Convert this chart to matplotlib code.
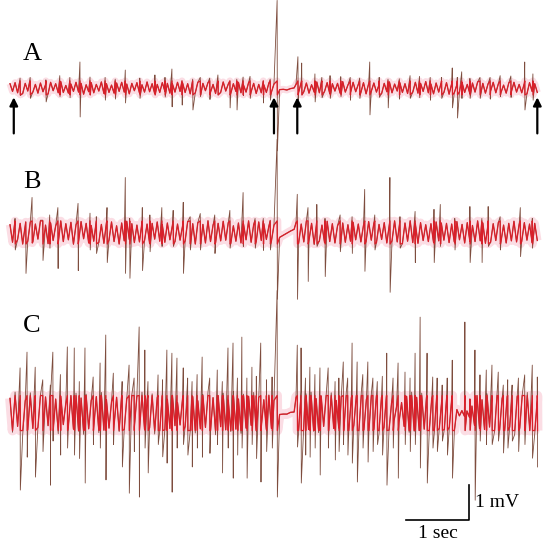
import numpy as np
import matplotlib.pyplot as plt

# ----------------------------------
# Data (time in sec from start of trace, amplitude in mV)
# ----------------------------------

labels = ['A', 'B', 'C']
baselines = [13.26, 9.13, 3.97]  # mV above the bottom edge

left_span = (0.0, 4.19)
right_span = (4.54, 8.37)
gap_span = (4.28, 4.51)
artifact_t = 4.24

# background activity, in 1/100 mV
a_left_band = [12, -10, 15, -14, 8, -16, 13, -9, 17, -12, 10, -15, 14, -11, 9, -17, 16, -8, 12, -14,
               18, -13, 7, -15, 11, -10, 16, -12, 13, -18, 9, -11, 15, -14, 10, -9, 17, -16, 12, -13,
               8, -15, 14, -10, 16, -12, 11, -17, 13, -8, 15, -14, 9, -12, 17, -11, 12, -16, 10, -13,
               15, -9, 13, -15, 11, -12, 16, -10, 14, -13, 12, -17, 9, -14, 16, -11, 13, -8, 15, -12,
               10, -16, 14, -13, 17, -9, 11, -15, 12, -10, 16, -14, 8, -12, 15, -11, 13, -16, 10, -14,
               9, -13, 14, -12, 11]
a_right_band = [10, -13, 16, -11, 14, -15, 9, -12, 17, -14, 11, -10, 15, -16, 12, -9, 13, -15, 18, -12,
                8, -14, 16, -11, 10, -13, 15, -17, 12, -10, 14, -12, 9, -16, 13, -11, 17, -14, 11, -9,
                15, -13, 12, -16, 10, -12, 16, -15, 13, -10, 18, -14, 11, -17, 14, -12, 16, -13, 15, -18,
                12, -14, 9, -11, 15, -13, 10, -16, 14, -12, 17, -10, 13, -15, 11, -9, 16, -14, 12, -13,
                8, -15, 14, -11, 16, -12, 10, -14, 13, -17, 15, -10, 12, -13]
b_left_band = [22, -28, 31, -20, 26, -33, 18, -25, 30, -27, 24, -19, 35, -29, 21, -32, 27, -23, 19, -30,
               33, -26, 25, -21, 29, -34, 22, -27, 31, -18, 26, -30, 20, -25, 34, -28, 23, -31, 28, -22,
               30, -26, 19, -33, 27, -24, 32, -20, 25, -29, 21, -27, 29, -23, 24, -31, 26, -19, 30, -25,
               22, -28, 27, -21, 20, -26, 24, -22, 19, -24, 31, -27, 25, -33, 28, -20, 23, -30, 34, -26,
               21, -29, 26, -24, 32, -22, 28, -31, 19, -25, 27, -30, 24, -21, 33, -28, 22, -26, 30, -23,
               25, -20, 18, -24, 21]
b_right_band = [28, -31, 24, -27, 33, -22, 26, -35, 30, -24, 21, -29, 32, -26, 25, -30, 19, -23, 27, -28,
                22, -25, 29, -21, 24, -27, 20, -26, 31, -22, 26, -29, 23, -20, 28, -30, 25, -24, 33, -27,
                30, -32, 27, -25, 34, -29, 24, -31, 28, -23, 22, -26, 25, -28, 30, -24, 27, -22, 26, -29,
                24, -27, 31, -21, 23, -30, 28, -25, 20, -26, 33, -24, 27, -31, 22, -28, 25, -23, 29, -26,
                21, -30, 26, -24, 32, -27, 23, -25, 28, -22, 24, -29, 26, -23]
c_left_band = [42, -55, 60, -38, 51, -62, 35, -48, 58, -44, 30, -41, 52, -57, 46, -36, 55, -50, 40, -59,
               48, -33, 28, -37, 50, -46, 57, -52, 43, -61, 54, -45, 36, -40, 47, -56, 59, -49, 38, -43,
               32, -35, 45, -53, 56, -47, 41, -58, 52, -39, 49, -54, 60, -46, 37, -42, 55, -60, 44, -50,
               58, -48, 39, -44, 51, -36, 30, -34, 42, -38, 63, -52, 47, -57, 35, -45, 53, -41, 60, -55,
               44, -62, 50, -39, 57, -48, 36, -53, 61, -46, 40, -58, 54, -43, 48, -35, 59, -51, 45, -40,
               38, -47, 52, -44, 36]
c_right_band = [45, -58, 62, -50, 55, -47, 60, -52, 41, -56, 49, -38, 53, -61, 58, -44, 36, -42, 47, -55,
                60, -51, 44, -35, 50, -57, 62, -48, 39, -53, 58, -46, 52, -60, 45, -41, 56, -49, 28, -22,
                18, -25, 30, -38, 48, -55, 60, -52, 45, -50, 57, -46, 61, -54, 42, -58, 50, -44, 38, -47,
                55, -40, 45, -52, 10, -8, 7, -9, 6, -12, 20, -35, 50, -44, 38, -47, 55, -40, 45, -52, 58,
                -49, 42, -53, 47, -40, 56, -61, 48, -43, 52, -45, 59, -50, 44, -57, 38]

# big spikes: (time, peak up, peak down) in mV
a_left_spikes = [(0.16, 0.28, -0.22), (0.32, 0.30, -0.30), (0.57, 0.23, -0.40), (0.79, 0.35, -0.25),
                 (0.95, 0.30, -0.28), (1.11, 0.74, -0.83), (1.27, 0.31, -0.20), (1.51, 0.30, -0.35),
                 (1.67, 0.25, -0.32), (1.83, 0.51, -0.43), (2.06, 0.28, -0.30), (2.30, 0.37, -0.20),
                 (2.46, 0.30, -0.26), (2.57, 0.54, -0.54), (2.73, 0.20, -0.49), (2.90, 0.25, -0.63),
                 (3.02, 0.30, -0.25), (3.17, 0.28, -0.33), (3.30, 0.37, -0.20), (3.49, 0.20, -0.57),
                 (3.60, 0.25, -0.63), (3.70, 0.31, -0.22), (3.81, 0.33, -0.30), (4.02, 0.20, -0.43),
                 (4.13, 0.25, -0.35)]
a_right_spikes = [(4.57, 0.89, -0.34), (4.63, 0.71, -0.20), (4.84, 0.40, -0.40), (4.95, 0.30, -0.28),
                  (5.08, 0.35, -0.30), (5.25, 0.32, -0.25), (5.40, 0.30, -0.35), (5.55, 0.28, -0.30),
                  (5.71, 0.74, -0.77), (5.86, 0.30, -0.27), (6.00, 0.25, -0.57), (6.18, 0.26, -0.32),
                  (6.35, 0.35, -0.30), (6.50, 0.33, -0.28), (6.67, 0.30, -0.35), (6.85, 0.30, -0.30),
                  (7.02, 0.57, -0.57), (7.10, 0.30, -0.86), (7.17, 0.46, -0.30), (7.30, 0.27, -0.30),
                  (7.46, 0.30, -0.30), (7.62, 0.30, -0.32), (7.78, 0.35, -0.25), (7.95, 0.34, -0.27),
                  (8.17, 0.74, -0.63), (8.30, 0.40, -0.35)]
b_left_spikes = [(0.08, 0.40, -0.50), (0.25, 0.30, -1.17), (0.35, 1.00, -0.30), (0.52, 0.35, -0.80),
                 (0.63, 0.50, -0.45), (0.76, 0.71, -1.03), (1.08, 0.83, -1.09), (1.27, 0.55, -0.50),
                 (1.37, 0.45, -0.60), (1.54, 0.71, -0.86), (1.83, 1.57, -1.17), (1.90, 0.40, -1.31),
                 (2.10, 0.71, -1.09), (2.22, 0.50, -0.55), (2.41, 0.71, -0.40), (2.59, 0.63, -0.40),
                 (2.75, 0.86, -1.17), (2.86, 0.45, -0.50), (3.02, 0.54, -0.50), (3.25, 0.50, -0.60),
                 (3.49, 0.63, -0.45), (3.70, 1.14, -0.40), (3.89, 0.40, -0.45), (4.02, 0.40, -0.51),
                 (4.13, 0.35, -0.50)]
b_right_spikes = [(4.56, 1.09, -1.91), (4.73, 0.71, -1.40), (4.87, 0.80, -0.40), (5.00, 0.40, -1.26),
                  (5.24, 0.50, -0.55), (5.43, 0.45, -0.60), (5.63, 1.23, -1.11), (5.79, 0.50, -0.50),
                  (6.03, 1.57, -1.71), (6.19, 0.45, -0.45), (6.43, 0.60, -0.86), (6.73, 0.66, -0.86),
                  (6.83, 0.80, -0.40), (7.06, 0.40, -0.50), (7.30, 0.74, -0.86), (7.49, 0.40, -0.86),
                  (7.59, 0.74, -0.40), (7.78, 0.45, -0.50), (8.10, 0.71, -0.69), (8.29, 0.40, -0.45)]
c_left_spikes = [(0.16, 1.29, -2.20), (0.27, 1.74, -1.26), (0.40, 1.31, -1.83), (0.52, 0.95, -1.10),
                 (0.64, 0.80, -2.06), (0.68, 1.74, -0.80), (0.80, 1.10, -1.20), (0.91, 1.89, -1.00),
                 (1.02, 1.86, -1.20), (1.10, 0.90, -1.30), (1.19, 1.86, -2.00), (1.32, 1.03, -0.90),
                 (1.43, 1.43, -1.00), (1.52, 2.23, -1.91), (1.64, 1.14, -0.90), (1.78, 0.90, -1.54),
                 (1.89, 1.37, -2.29), (1.97, 1.00, -1.10), (2.05, 2.46, -2.40), (2.14, 1.80, -1.00),
                 (2.19, 0.90, -1.71), (2.35, 1.09, -0.90), (2.42, 0.95, -1.25), (2.49, 1.80, -1.43),
                 (2.57, 1.71, -2.26), (2.65, 1.57, -1.00), (2.75, 1.29, -0.90), (2.82, 1.00, -1.20),
                 (2.89, 0.90, -1.54), (2.97, 1.10, -1.00), (3.05, 1.60, -1.26), (3.17, 1.00, -1.15),
                 (3.29, 1.23, -0.90), (3.37, 0.90, -1.71), (3.46, 1.86, -1.00), (3.54, 2.00, -1.86),
                 (3.61, 1.00, -1.20), (3.68, 2.17, -1.00), (3.76, 1.00, -1.86), (3.84, 1.31, -0.90),
                 (3.91, 1.05, -1.30), (3.98, 2.00, -1.97), (4.07, 0.95, -1.10), (4.16, 1.03, -1.00)]
c_right_spikes = [(4.56, 1.94, -0.97), (4.62, 1.86, -2.00), (4.69, 1.00, -1.20), (4.76, 1.31, -1.26),
                  (4.84, 1.10, -1.00), (4.92, 1.29, -1.77), (5.05, 1.29, -1.00), (5.16, 0.90, -1.34),
                  (5.22, 1.00, -1.10), (5.29, 1.46, -0.90), (5.36, 1.00, -1.20), (5.43, 2.00, -1.43),
                  (5.51, 1.46, -1.97), (5.60, 1.10, -1.00), (5.68, 1.46, -1.40), (5.76, 1.00, -1.10),
                  (5.83, 0.90, -0.90), (5.91, 1.05, -1.20), (5.98, 1.71, -2.06), (6.08, 1.00, -1.00),
                  (6.16, 1.43, -1.86), (6.27, 1.17, -0.90), (6.35, 1.00, -1.10), (6.43, 1.71, -0.90),
                  (6.51, 2.74, -1.57), (6.62, 1.71, -2.00), (6.71, 1.03, -1.00), (6.78, 1.00, -1.10),
                  (6.86, 0.80, -0.80), (6.94, 1.00, -1.20), (7.02, 1.51, -1.86), (7.22, 2.60, -0.50),
                  (7.30, 0.40, -0.49), (7.38, 1.80, -2.49), (7.46, 1.09, -0.80), (7.56, 1.23, -0.90),
                  (7.65, 1.37, -0.90), (7.75, 1.17, -0.80), (7.83, 0.80, -1.14), (7.90, 0.95, -1.00),
                  (7.97, 0.80, -0.80), (8.07, 1.00, -1.10), (8.17, 1.09, -0.90), (8.29, 1.37, -1.29),
                  (8.37, 1.03, -1.54)]

# stimulus artifact (peak up, peak down) and the flat settling after it
artifact = [(2.50, -1.80), (2.66, -1.91), (3.50, -2.40)]
settle = [[-0.05, -0.04, -0.06, -0.02, 0.00],
          [-0.14, -0.08, -0.02, 0.04, 0.09],
          [-0.04, -0.03, -0.03, 0.02, 0.03]]

bands = [(a_left_band, a_right_band), (b_left_band, b_right_band), (c_left_band, c_right_band)]
spikes = [(a_left_spikes, a_right_spikes), (b_left_spikes, b_right_spikes), (c_left_spikes, c_right_spikes)]

marker_times = [0.06, 4.19, 4.56, 8.37]  # arrows under trace A

# ----------------------------------
# Geometry / style of the original picture
# ----------------------------------

SEC_PX = 63
MV_PX = 35
W, H = 550, 552
X0 = 10  # pixel where t = 0

clip_levels = [0.2, 0.33, 0.5]   # red part of each trace
halo_widths = [5, 6, 7]


def tx(x_px):
    return (x_px - X0) / SEC_PX


def ty(y_px):
    return (H - y_px) / MV_PX


def segment(span, band, spk):
    """Merges the background band and the big spikes into one sorted series."""
    t = list(np.linspace(span[0], span[1], len(band)))
    v = list(np.array(band) / 100)
    for (ts, up, dn) in spk:
        t += [ts, ts + 0.004]
        v += [up, dn]
    order = np.argsort(t, kind='stable')
    return np.array(t)[order], np.array(v)[order]


def build_trace(i):
    tl, vl = segment(left_span, bands[i][0], spikes[i][0])
    tr, vr = segment(right_span, bands[i][1], spikes[i][1])
    ta = np.array([artifact_t, artifact_t + 0.004])
    va = np.array(artifact[i])
    tg = np.linspace(gap_span[0], gap_span[1], len(settle[i]))
    vg = np.array(settle[i])
    return np.concatenate([tl, ta, tg, tr]), np.concatenate([vl, va, vg, vr])


# ----------------------------------
# Plot
# ----------------------------------

plt.rcParams['font.family'] = ['Liberation Serif', 'DejaVu Serif']

fig = plt.figure(figsize=(W / 100, H / 100), dpi=100)
ax = fig.add_axes([0, 0, 1, 1])
ax.set_xlim(tx(0), tx(W))
ax.set_ylim(0, H / MV_PX)
ax.axis('off')

for i, base in enumerate(baselines):
    t, v = build_trace(i)
    c = clip_levels[i]
    vc = np.clip(v, -c, c)
    ax.plot(t, base + vc, color='#f7b4c4', lw=halo_widths[i], alpha=0.45, solid_capstyle='butt', zorder=1)
    ax.plot(t, base + v, color='#7e4d3e', lw=0.6, zorder=3)
    ax.plot(t, base + vc, color='#d8202a', lw=0.95, zorder=4)

# arrows under trace A
for mt in marker_times:
    ax.annotate('', xy=(mt, baselines[0] - 0.27), xytext=(mt, baselines[0] - 1.3),
                arrowprops=dict(arrowstyle='-|>', color='black', lw=1.6, mutation_scale=12,
                                shrinkA=0, shrinkB=0), zorder=5)

# panel letters
for lab, y_px in zip(labels, [54, 182, 326]):
    ax.text(tx(32), ty(y_px), lab, fontsize=19, ha='center', va='center')

# scale bar: 1 sec x 1 mV
bx, by = tx(469), ty(520)
ax.plot([bx - 1, bx, bx], [by, by, by + 1], color='black', lw=1.2, zorder=5)
ax.text(bx + 0.1, by + 0.5, '1 mV', fontsize=14, ha='left', va='center')
ax.text(bx - 0.5, by - 0.15, '1 sec', fontsize=14, ha='center', va='top')

fig.savefig('out.png', dpi=100)
